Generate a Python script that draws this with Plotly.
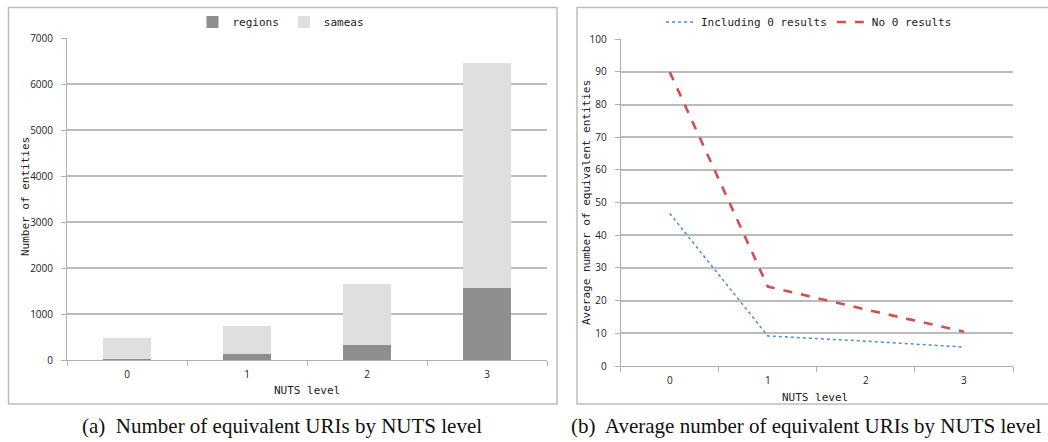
import plotly.graph_objects as go

# Data
levels = ["0", "1", "2", "3"]
regions = [30, 140, 330, 1560]
sameas = [450, 600, 1320, 4890]
including_zero = [46.7, 9.2, 7.6, 5.8]
no_zero = [90.0, 24.3, 17.3, 10.5]

bar_xtitle = "NUTS level"
bar_ytitle = "Number of entities"
line_xtitle = "NUTS level"
line_ytitle = "Average number of equivalent entities"
caption_a = "(a)  Number of equivalent URIs by NUTS level"
caption_b = "(b)  Average number of equivalent URIs by NUTS level"

W, H = 1048, 442
def px(x):
    return x / W
def py(y):
    return (H - y) / H

mono = "DejaVu Sans Mono"
sans = "Open Sans"
grid = "#bcbcbc"

fig = go.Figure()
fig.add_trace(go.Bar(x=levels, y=regions, name="regions", marker=dict(color="#8e8e8e", line=dict(width=0)),
                     width=0.4, xaxis="x", yaxis="y", legend="legend"))
fig.add_trace(go.Bar(x=levels, y=sameas, name="sameas", marker=dict(color="#dfdfdf", line=dict(width=0)),
                     width=0.4, xaxis="x", yaxis="y", legend="legend"))
fig.add_trace(go.Scatter(x=levels, y=including_zero, name="Including 0 results", mode="lines",
                         line=dict(color="#4a8fd8", width=1.5, dash="dot"), xaxis="x2", yaxis="y2", legend="legend2"))
fig.add_trace(go.Scatter(x=levels, y=no_zero, name="No 0 results", mode="lines",
                         line=dict(color="#d2504b", width=2.6, dash="dash"), xaxis="x2", yaxis="y2", legend="legend2"))

axis_common = dict(showline=True, linecolor="#b0b0b0", linewidth=1, ticks="outside", ticklen=5,
                   tickcolor="#b0b0b0", zeroline=False, automargin=False,
                   tickfont=dict(family=sans, size=10, color="#222"))
title_font = dict(family=mono, size=11, color="#222")

def ann(text, x, y, angle=0, font=title_font, xanchor="center"):
    return dict(text=text, xref="paper", yref="paper", x=px(x), y=py(y), xanchor=xanchor,
                yanchor="middle", showarrow=False, textangle=angle, font=font)

fig.update_layout(
    width=W, height=H, margin=dict(l=0, r=0, t=0, b=0, autoexpand=False),
    paper_bgcolor="white", plot_bgcolor="white",
    barmode="stack", showlegend=True,
    xaxis=dict(domain=[px(67), px(547)], anchor="y", type="category", tickson="boundaries",
               range=[-0.5, 3.5], showgrid=False, ticklabelstandoff=5, **axis_common),
    yaxis=dict(domain=[py(360), py(38)], anchor="x", range=[0, 7000], dtick=1000,
               showgrid=True, gridcolor=grid, gridwidth=1.5, ticklabelstandoff=6, **axis_common),
    xaxis2=dict(domain=[px(620.7), px(1013)], anchor="y2", type="category", tickson="boundaries",
                range=[-0.5, 3.5], showgrid=False, ticklabelstandoff=5, **axis_common),
    yaxis2=dict(domain=[py(366), py(39.3)], anchor="x2", range=[0, 100], dtick=10,
                showgrid=True, gridcolor=grid, gridwidth=1.5, ticklabelstandoff=6, **axis_common),
    legend=dict(orientation="h", x=px(281), y=py(22), xanchor="center", yanchor="middle",
                font=title_font, itemwidth=30, traceorder="normal",
                bgcolor="rgba(0,0,0,0)"),
    legend2=dict(orientation="h", x=px(809), y=py(22), xanchor="center", yanchor="middle",
                 font=title_font, itemwidth=30,
                 bgcolor="rgba(0,0,0,0)"),
    shapes=[
        dict(type="rect", xref="paper", yref="paper", x0=px(8.5), x1=px(557), y0=py(404), y1=py(7.5),
             line=dict(color="#bdbdbd", width=1.5), layer="below"),
        dict(type="rect", xref="paper", yref="paper", x0=px(577), x1=px(1052), y0=py(404), y1=py(7.5),
             line=dict(color="#bdbdbd", width=1.5), layer="below"),
    ],
    annotations=[
        ann(bar_ytitle, 25, 197, angle=-90),
        ann(bar_xtitle, 307, 390),
        ann(line_ytitle, 586, 203, angle=-90),
        ann(line_xtitle, 815, 397),
        ann(caption_a, 282, 426, font=dict(family="Liberation Serif", size=21, color="#111")),
        ann(caption_b, 568.5, 426, font=dict(family="Liberation Serif", size=21, color="#111"), xanchor="left"),
    ],
)

fig.write_html("out.html", config={"displayModeBar": False},
               post_script="document.body.style.margin='0';document.body.style.overflow='hidden';")
